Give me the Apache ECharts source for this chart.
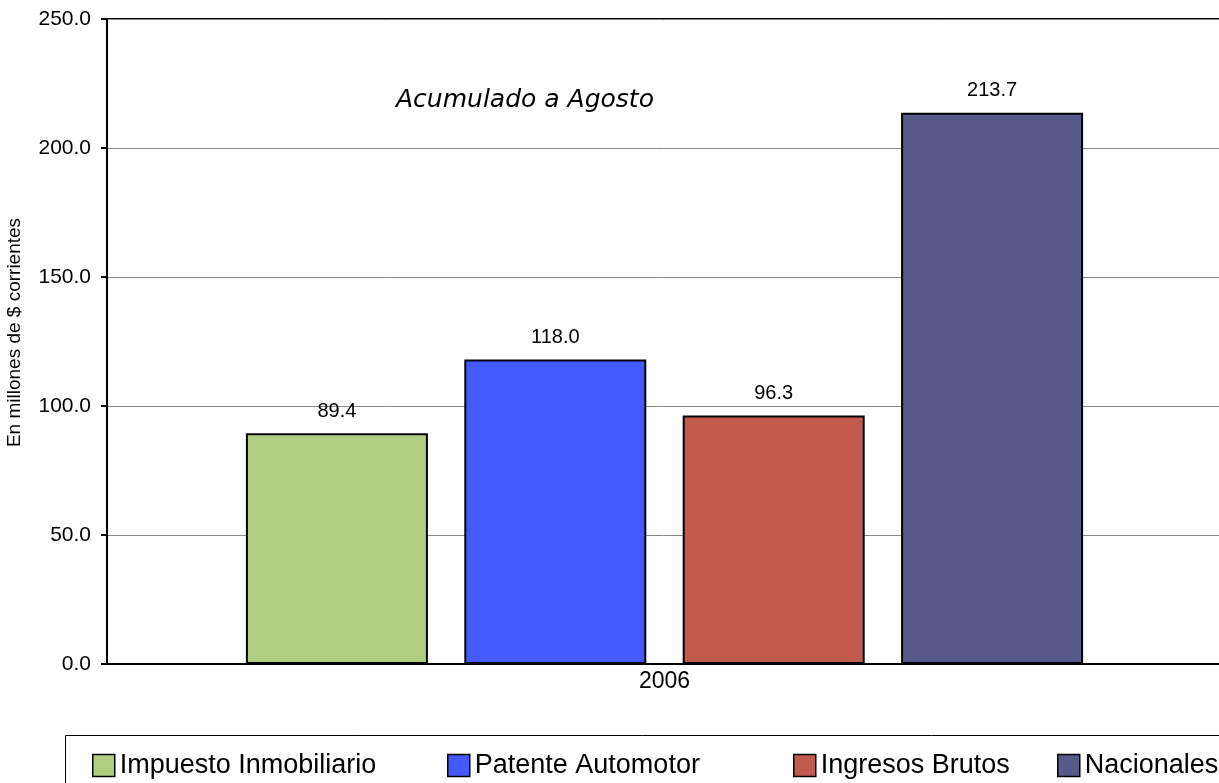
<!DOCTYPE html>
<html><head><meta charset="utf-8">
<script src="https://cdn.jsdelivr.net/npm/echarts@6/dist/echarts.min.js"></script>
<style>html,body{margin:0;padding:0;background:#fff}#c{width:1219px;height:783px}</style>
</head><body><div id="c"></div>
<script>
const categories = ['2006'];
const seriesNames = ['Impuesto Inmobiliario', 'Patente Automotor', 'Ingresos Brutos', 'Nacionales'];
const seriesValues = [[89.4], [118.0], [96.3], [213.7]];
const seriesColors = ['#AFCE80', '#425AFF', '#C05B4D', '#575A88'];
const yAxisName = 'En millones de $ corrientes';
const chartNote = 'Acumulado a Agosto';
const legendLefts = [92, 447, 793, 1057];

const chart = echarts.init(document.getElementById('c'));
chart.setOption({
  animation: false,
  backgroundColor: '#fff',
  grid: { left: 107, top: 19, right: -3, bottom: 119, show: true, borderColor: '#000', borderWidth: 2, containLabel: false, outerBoundsMode: 'none' },
  graphic: [
    { type: 'rect', shape: { x: 65.5, y: 735.5, width: 1200, height: 100 }, style: { fill: '#fff', stroke: '#000', lineWidth: 1 }, z: -1 },
    { type: 'text', left: 396, top: 88, style: { text: chartNote, font: 'italic 25px "Comic Sans MS", "DejaVu Sans", sans-serif', fill: '#000' } }
  ],
  legend: seriesNames.map((n, i) => ({
    data: [n], left: legendLefts[i], top: 752, itemWidth: 22, itemHeight: 22, icon: 'rect',
    itemStyle: { borderColor: '#000', borderWidth: 1.5 },
    textStyle: { fontFamily: 'Liberation Sans, Arial', fontSize: 27, color: '#000' },
    padding: 0
  })),
  xAxis: {
    type: 'category', data: categories,
    axisLine: { lineStyle: { color: '#000', width: 2 } },
    axisTick: { show: false },
    axisLabel: { fontFamily: 'Liberation Sans, Arial', fontSize: 23, color: '#000', margin: 6 }
  },
  yAxis: {
    type: 'value', min: 0, max: 250, interval: 50,
    name: yAxisName, nameLocation: 'middle', nameGap: 83, nameRotate: 90,
    nameTextStyle: { fontFamily: 'Liberation Sans, Arial', fontSize: 19, color: '#000', padding: [0, 0, 0, 18] },
    axisLine: { show: true, lineStyle: { color: '#000', width: 2 } },
    axisTick: { show: true, length: 6, lineStyle: { color: '#000', width: 2 } },
    axisLabel: { formatter: v => v.toFixed(1), fontFamily: 'Liberation Sans, Arial', fontSize: 21, color: '#000', margin: 16 },
    splitLine: { lineStyle: { color: '#888', width: 1 } }
  },
  series: seriesNames.map((n, i) => ({
    name: n, type: 'bar', data: seriesValues[i], barWidth: 182, barGap: '20%',
    itemStyle: { color: seriesColors[i], borderColor: '#000', borderWidth: 2 },
    label: { show: true, position: 'top', distance: 12, formatter: p => p.value.toFixed(1), fontFamily: 'Liberation Sans, Arial', fontSize: 20, color: '#000' }
  }))
});
</script></body></html>
